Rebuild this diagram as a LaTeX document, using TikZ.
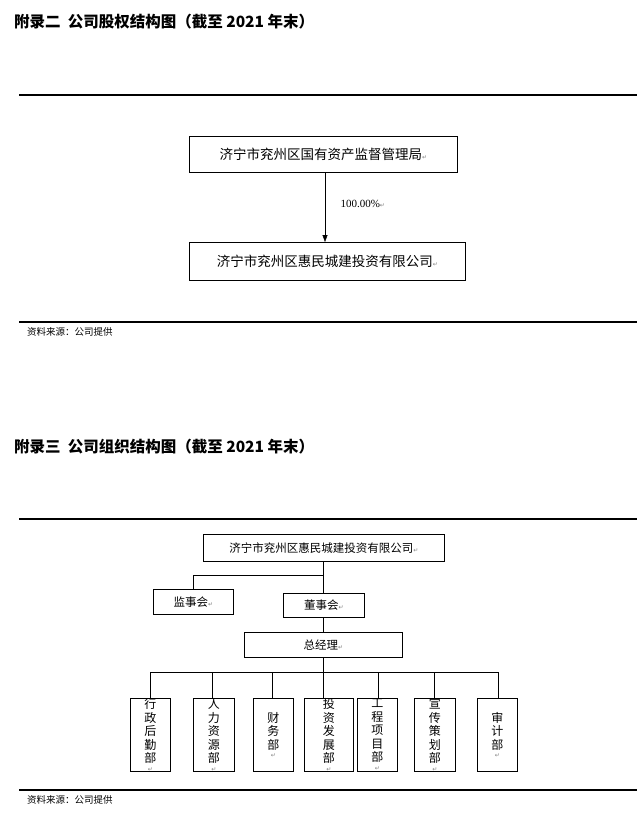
\documentclass[tikz,border=0pt]{standalone}
\usepackage{fontspec}
\setmainfont{Liberation Serif}
\newfontfamily\cjk{Noto Sans CJK SC}
\newfontfamily\sym{DejaVu Sans}
\usetikzlibrary{positioning, arrows.meta}
\newcommand{\ret}{{\sym\fontsize{6}{6}\selectfont\textcolor{gray}{↵}}}

\begin{document}
\begin{tikzpicture}[x=1pt, y=-1pt,
    orgbox/.style={draw, semithick, inner sep=0pt, anchor=north west, font=\cjk\fontsize{11.5}{13}\selectfont},
    bigbox/.style={orgbox, font=\cjk\fontsize{13.5}{15}\selectfont},
    deptbox/.style={orgbox, align=center, font=\cjk\fontsize{12}{13.5}\selectfont},
    rulebar/.style={line width=1.6pt},
    heading/.style={anchor=west, inner sep=0pt, font=\cjk\bfseries\fontsize{15.5}{15.5}\selectfont},
    srcnote/.style={anchor=west, inner sep=0pt, font=\cjk\fontsize{9.5}{9.5}\selectfont}]
\useasboundingbox (0,0) rectangle (642,829);

% equity chart
\node[heading] (title1) at (14,22) {附录二\ \ 公司股权结构图（截至 2021 年末）};
\draw[rulebar] (19,95) -- (637,95);
\node[bigbox, minimum width=268pt, minimum height=36pt] (owner) at (189,136) {济宁市兖州区国有资产监督管理局\ret};
\node[bigbox, minimum width=276pt, minimum height=38pt] (firm) at (189,242) {济宁市兖州区惠民城建投资有限公司\ret};
\draw[-{Triangle[width=5pt,length=7pt]}] (owner.south -| 325,0) -- (firm.north -| 325,0)
    node[pos=0.45, right=12pt, font=\fontsize{11}{11}\selectfont] (share) {100.00\%\ret};
\draw[rulebar] (19,322) -- (637,322);
\node[srcnote] (src1) at (27,332) {资料来源：公司提供};

% organisation chart
\node[heading] (title2) at (14,447) {附录三\ \ 公司组织结构图（截至 2021 年末）};
\draw[rulebar] (19,519) -- (637,519);
\node[orgbox, minimum width=241pt, minimum height=27pt] (top) at (203,534) {济宁市兖州区惠民城建投资有限公司\ret};
\node[orgbox, minimum width=80pt, minimum height=25pt] (sup) at (153,589) {监事会\ret};
\node[orgbox, minimum width=81pt, minimum height=24pt] (board) at (283,593) {董事会\ret};
\node[orgbox, minimum width=158pt, minimum height=25pt] (gm) at (244,632) {总经理\ret};
\draw (top.south -| 323,0) -- (board.north -| 323,0);
\draw (board.south -| 323,0) -- (gm.north -| 323,0);
\coordinate (split) at (323,575);
\draw (split) -- (193,575) -- (sup.north -| 193,0);
\coordinate (bus) at (323,672);
\draw (gm.south -| 323,0) -- (bus);
\draw (150,672) -- (498,672);

\foreach \name/\xl/\xr/\xc/\txt in {
    admin/130/170/150/{行\\政\\后\\勤\\部},
    hr/193/234/212/{人\\力\\资\\源\\部},
    fin/253/293/272/{财\\务\\部},
    inv/304/353/323/{投\\资\\发\\展\\部},
    eng/357/397/378/{工\\程\\项\\目\\部},
    pub/414/455/434/{宣\\传\\策\\划\\部},
    aud/477/517/498/{审\\计\\部}} {
  \node[deptbox, minimum width=\xr pt-\xl pt, minimum height=73pt] (\name) at (\xl,698) {\txt\\[-5pt]\ret};
  \draw (\xc,672) -- (\name.north -| \xc,0);
}
\draw[rulebar] (19,790) -- (637,790);
\node[srcnote] (src2) at (27,800) {资料来源：公司提供};
\end{tikzpicture}
\end{document}
